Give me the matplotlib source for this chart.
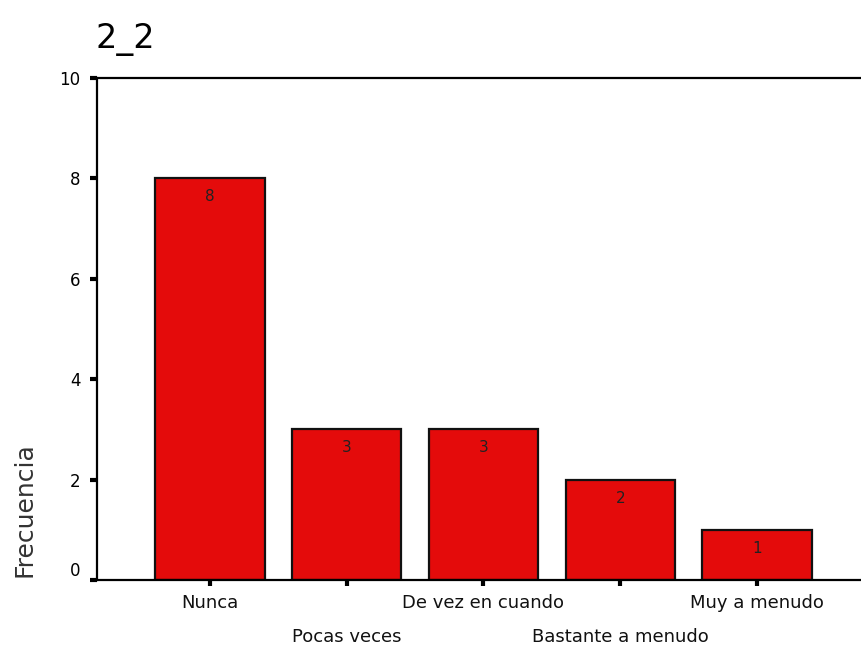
import matplotlib.pyplot as plt

categories = ["Nunca", "Pocas veces", "De vez en cuando", "Bastante a menudo", "Muy a menudo"]
counts = [8, 3, 3, 2, 1]
yticks = [0, 2, 4, 6, 8, 10]

plt.rcParams['font.family'] = ['DejaVu Sans']

fig = plt.figure(figsize=(8.61, 6.47), dpi=100)
ax = fig.add_axes([97 / 861, 1 - 580 / 647, 1 - 97 / 861, (580 - 78) / 647])

x = list(range(len(categories)))
bars = ax.bar(x, counts, width=0.8, color='#e40b0b', edgecolor='#111111', linewidth=1.6)

# value labels just inside the top of each bar
for xi, v in zip(x, counts):
    ax.annotate(str(v), (xi, v), xytext=(0, -11), textcoords='offset pixels',
                ha='center', va='top', fontsize=11, color='#222222')

ax.set_xlim(-0.825, 4.76)
ax.set_ylim(0, 10)
ax.set_yticks(yticks)
ax.set_yticklabels([str(t) for t in yticks], fontsize=12)
ax.tick_params(axis='y', direction='out', length=5, width=3, pad=7, color='black')
ax.get_yticklabels()[0].set_va('bottom')

# category labels staggered on two rows
ax.set_xticks(x)
ax.set_xticklabels([''] * len(x))
ax.tick_params(axis='x', direction='out', length=4, width=3, color='black')
for i, name in enumerate(categories):
    ypos = -0.046 if i % 2 == 0 else -0.113
    ax.text(i, ypos, name, transform=ax.get_xaxis_transform(), ha='center', va='center',
            fontsize=13, color='#111111')

for side in ['left', 'top', 'bottom']:
    ax.spines[side].set_linewidth(1.6)
    ax.spines[side].set_color('black')
ax.spines['right'].set_visible(False)

fig.text(25 / 861, 1 - 510 / 647, "Frecuencia", rotation=90, ha='center', va='center',
         fontsize=18, color='#333333')
fig.text(95 / 861, 1 - 40 / 647, "2_2", ha='left', va='center', fontsize=24, color='black')

fig.savefig("out.png", dpi=100)
